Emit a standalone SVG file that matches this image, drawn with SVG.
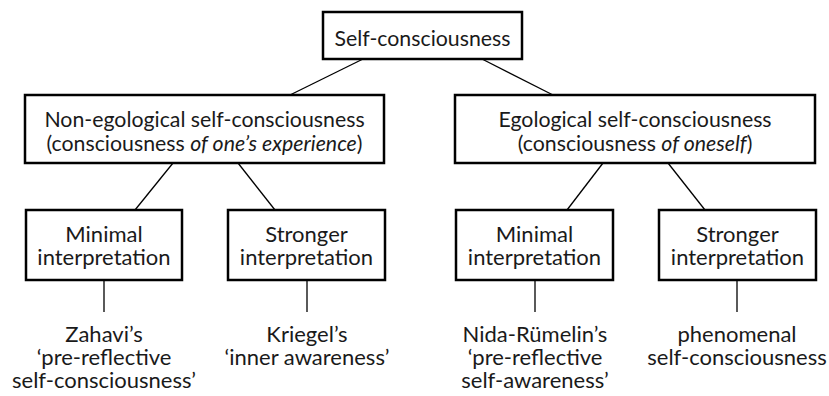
<svg xmlns="http://www.w3.org/2000/svg" width="829" height="396" viewBox="0 0 829 396">
<style>
.box{fill:#fff;stroke:#000;stroke-width:2.5}
.t{font-family:Lato,"Open Sans",sans-serif;font-size:21.3px;fill:#1a1a1a;text-anchor:middle}
.b{font-size:22px}
.i{font-style:italic}
.c line{stroke:#000;stroke-width:1.3}
</style>
<rect width="829" height="396" fill="#fff"/>
<g class="c" id="connectors">
<line x1="363" y1="59" x2="290" y2="95"/>
<line x1="482" y1="59" x2="553" y2="95"/>
<line x1="173" y1="163" x2="135" y2="210"/>
<line x1="238" y1="163" x2="275" y2="210"/>
<line x1="603" y1="163" x2="567" y2="210"/>
<line x1="668" y1="163" x2="705" y2="210"/>
<line x1="104" y1="280" x2="104" y2="312"/>
<line x1="307" y1="280" x2="307" y2="312"/>
<line x1="535" y1="280" x2="535" y2="312"/>
<line x1="737" y1="280" x2="737" y2="312"/>
</g>
<g id="root">
<rect class="box" x="323" y="12" width="199" height="47"/>
<text class="t" x="422.5" y="46">Self-consciousness</text>
</g>
<g id="nonego">
<rect class="box" x="25" y="95" width="359" height="68"/>
<text class="t" x="204.5" y="127">Non-egological self-consciousness</text>
<text class="t" x="204.5" y="151">(consciousness <tspan class="i">of one’s experience</tspan>)</text>
</g>
<g id="ego">
<rect class="box" x="455" y="95" width="360" height="68"/>
<text class="t" x="635" y="127">Egological self-consciousness</text>
<text class="t" x="635" y="151">(consciousness <tspan class="i">of oneself</tspan>)</text>
</g>
<g id="min1">
<rect class="box" x="26" y="210" width="156" height="70"/>
<text class="t b" x="104" y="242">Minimal</text>
<text class="t b" x="104" y="265">interpretation</text>
</g>
<g id="str1">
<rect class="box" x="228" y="210" width="157" height="70"/>
<text class="t b" x="306.5" y="242">Stronger</text>
<text class="t b" x="306.5" y="265">interpretation</text>
</g>
<g id="min2">
<rect class="box" x="456" y="210" width="157" height="70"/>
<text class="t b" x="534.5" y="242">Minimal</text>
<text class="t b" x="534.5" y="265">interpretation</text>
</g>
<g id="str2">
<rect class="box" x="659" y="210" width="157" height="70"/>
<text class="t b" x="737.5" y="242">Stronger</text>
<text class="t b" x="737.5" y="265">interpretation</text>
</g>
<g id="zahavi">
<text class="t b" x="104" y="342">Zahavi’s</text>
<text class="t b" x="104" y="365">‘pre-reflective</text>
<text class="t b" x="104" y="388">self-consciousness’</text>
</g>
<g id="kriegel">
<text class="t b" x="307" y="342">Kriegel’s</text>
<text class="t b" x="307" y="365">‘inner awareness’</text>
</g>
<g id="nida">
<text class="t b" x="535" y="342">Nida-Rümelin’s</text>
<text class="t b" x="535" y="365">‘pre-reflective</text>
<text class="t b" x="535" y="388">self-awareness’</text>
</g>
<g id="phenomenal">
<text class="t b" x="737" y="342">phenomenal</text>
<text class="t b" x="737" y="365">self-consciousness</text>
</g>
</svg>
